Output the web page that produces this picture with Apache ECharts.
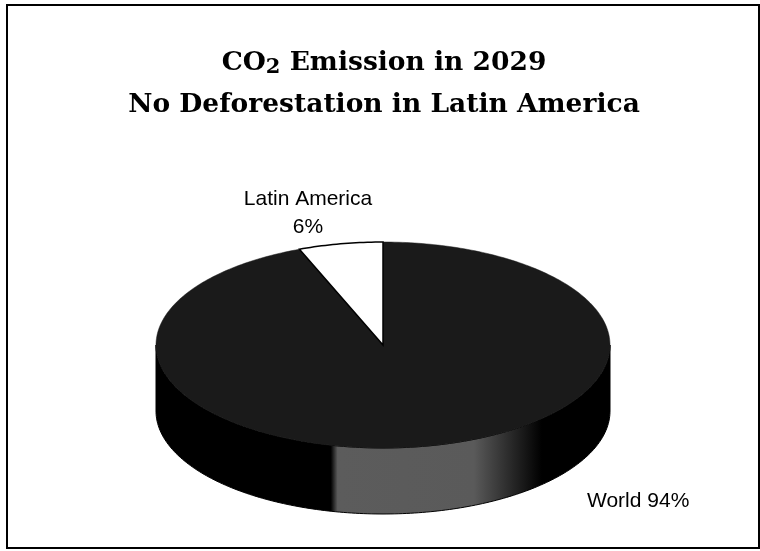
<!DOCTYPE html>
<html>
<head>
<meta charset="utf-8">
<script src="https://cdn.jsdelivr.net/npm/echarts@6/dist/echarts.min.js"></script>
<style>html,body{margin:0;padding:0;background:#fff}#c{width:760px;height:551px}</style>
</head>
<body>
<div id="c"></div>
<script>
const categories = ['World', 'Latin America'];
const values = [94, 6];
const titleLine1 = 'CO{s|2} Emission in 2029';
const titleLine2 = 'No Deforestation in Latin America';

const total = values.reduce((a, b) => a + b, 0);
const CX = 383, CY = 345, RX = 227, RY = 103, DEPTH = 66;
const topColors = ['#1a1a1a', '#ffffff'];
const labelAnchors = [
  { x: 587, y: 501, align: 'left', text: (n, v) => n + ' ' + v + '%' },
  { x: 308, y: 213, align: 'center', text: (n, v) => n + '\n' + v + '%' }
];

function sliceAngles(i) {
  let before = 0;
  for (let k = 0; k < i; k++) before += values[k];
  const a0 = 90 - before / total * 360;
  const a1 = 90 - (before + values[i]) / total * 360;
  return [a1, a0];
}
function pt(deg, dy) {
  const r = deg * Math.PI / 180;
  return [CX + RX * Math.cos(r), CY - RY * Math.sin(r) + (dy || 0)];
}
function arcPts(from, to, dy) {
  const pts = [];
  const n = Math.max(2, Math.ceil(Math.abs(to - from)));
  for (let j = 0; j <= n; j++) pts.push(pt(from + (to - from) * j / n, dy));
  return pts;
}

const sideFill = {
  type: 'linear', x: CX - RX, y: 0, x2: CX + RX, y2: 0, global: true,
  colorStops: [
    { offset: 0, color: '#000' },
    { offset: 0.385, color: '#000' },
    { offset: 0.40, color: '#5c5c5c' },
    { offset: 0.70, color: '#5a5a5a' },
    { offset: 0.85, color: '#000' },
    { offset: 1, color: '#000' }
  ]
};

function renderSide(params, api) {
  const i = params.dataIndex;
  const [a1, a0] = sliceAngles(i);
  const children = [];
  for (let k = -2; k <= 1; k++) {
    const lo = Math.max(a1, -180 + 360 * k);
    const hi = Math.min(a0, 360 * k);
    if (hi > lo) {
      const topEdge = arcPts(lo, hi, 0);
      const botEdge = arcPts(hi, lo, DEPTH);
      children.push({
        type: 'polygon',
        shape: { points: topEdge.concat(botEdge) },
        style: { fill: sideFill, stroke: '#000', lineWidth: 1 }
      });
    }
  }
  return { type: 'group', children };
}

function renderTop(params, api) {
  const i = params.dataIndex;
  const [a1, a0] = sliceAngles(i);
  const pts = [[CX, CY]].concat(arcPts(a0, a1, 0));
  const la = labelAnchors[i];
  return {
    type: 'group',
    children: [
      {
        type: 'polygon',
        shape: { points: pts },
        style: { fill: topColors[i], stroke: i === 1 ? '#000' : topColors[i], lineWidth: i === 1 ? 1.5 : 0.5 }
      },
      {
        type: 'text',
        x: la.x, y: la.y,
        style: {
          text: la.text(categories[i], values[i]),
          fill: '#000',
          font: '21px "Liberation Sans", Arial, sans-serif',
          align: la.align, verticalAlign: 'middle', lineHeight: 28
        }
      }
    ]
  };
}

const data = values.map((v, i) => ({ name: categories[i], value: [v] }));

const chart = echarts.init(document.getElementById('c'), null, { renderer: 'canvas' });
chart.setOption({
  backgroundColor: '#fff',
  animation: false,
  graphic: [
    { type: 'rect', shape: { x: 7, y: 5, width: 752, height: 543 }, style: { fill: 'none', stroke: '#000', lineWidth: 2 }, z: 10 },
    {
      type: 'text', x: 384, y: 63,
      style: {
        text: titleLine1, fill: '#000', align: 'center', verticalAlign: 'middle',
        font: 'bold 26.5px "DejaVu Serif", serif',
        rich: { s: { fontSize: 21, fontWeight: 'bold', fontFamily: 'DejaVu Serif', padding: [9, 0, 0, 0], verticalAlign: 'bottom' } }
      }
    },
    {
      type: 'text', x: 384, y: 105,
      style: { text: titleLine2, fill: '#000', align: 'center', verticalAlign: 'middle', font: 'bold 26.5px "DejaVu Serif", serif' }
    }
  ],
  series: [
    { type: 'custom', coordinateSystem: 'none', renderItem: renderSide, data: data, z: 1 },
    { type: 'custom', coordinateSystem: 'none', renderItem: renderTop, data: data, z: 2 }
  ]
});
</script>
</body>
</html>
